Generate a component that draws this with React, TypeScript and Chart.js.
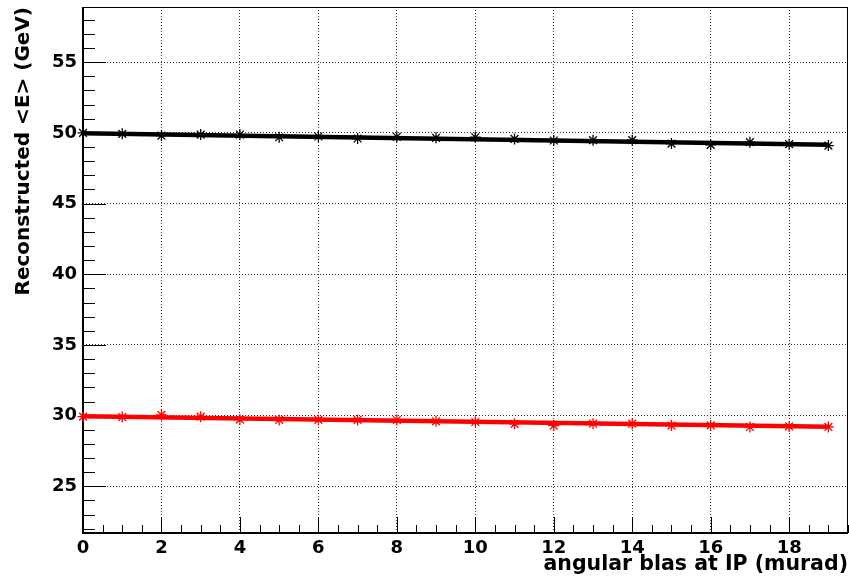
import React, { useEffect, useRef } from "react";
import { Chart, registerables } from "chart.js";

Chart.register(...registerables);

const xValues = [0, 1, 2, 3, 4, 5, 6, 7, 8, 9, 10, 11, 12, 13, 14, 15, 16, 17, 18, 19];
const blackValues = [50.0, 49.93, 49.81, 49.88, 49.88, 49.69, 49.74, 49.6, 49.72, 49.65, 49.69, 49.57, 49.46, 49.48, 49.48, 49.24, 49.15, 49.34, 49.2, 49.1];
const redValues = [29.93, 29.9, 30.05, 29.93, 29.72, 29.7, 29.7, 29.7, 29.69, 29.6, 29.55, 29.42, 29.3, 29.43, 29.43, 29.3, 29.31, 29.2, 29.24, 29.2];
const fitX = [0, 19];
const blackFit = [49.97, 49.15];
const redFit = [29.95, 29.22];

const xTicks = [0, 2, 4, 6, 8, 10, 12, 14, 16, 18];
const yTicks = [25, 30, 35, 40, 45, 50, 55];
const xMinorStep = 0.5;
const yMinorStep = 1;
const xRange = [0, 19.5];
const yRange = [21.7, 58.9];

const xTitle = "angular blas at IP (murad)";
const yTitle = "Reconstructed <E> (GeV)";

const FONT = "'DejaVu Sans', 'Liberation Sans', Arial, sans-serif";

const rootAxesPlugin = {
  id: "rootAxes",
  beforeDatasetsDraw(chart: any) {
    const { ctx, chartArea } = chart;
    const { left, right, top, bottom } = chartArea;
    const xs = chart.scales.x;
    const ys = chart.scales.y;
    const w = right - left;
    const h = bottom - top;
    ctx.save();
    ctx.fillStyle = "#000";
    // frame
    ctx.fillRect(left, top, w, 1);
    ctx.fillRect(right - 1, top, 1, h);
    ctx.fillRect(left - 1, top, 2, h + 1);
    ctx.fillRect(left - 1, bottom - 1, w + 1, 2);
    // y ticks
    const yMajLen = Math.round(0.03 * w);
    const yMinLen = Math.round(yMajLen / 2);
    for (let v = Math.ceil(yRange[0]); v <= yRange[1]; v += yMinorStep) {
      const py = Math.round(ys.getPixelForValue(v));
      const major = yTicks.includes(v);
      ctx.fillRect(left, py, major ? yMajLen : yMinLen, 1);
    }
    // x ticks
    const xMajLen = Math.round(0.03 * h);
    const xMinLen = Math.round(xMajLen / 2);
    for (let v = xRange[0]; v <= xRange[1] + 1e-6; v += xMinorStep) {
      const px = Math.round(xs.getPixelForValue(v));
      const major = xTicks.includes(v);
      const len = major ? xMajLen : xMinLen;
      ctx.fillRect(px, bottom - len, 1, len);
    }
    ctx.restore();
  },
};

export default function App() {
  const ref = useRef<HTMLCanvasElement | null>(null);

  useEffect(() => {
    document.body.style.margin = "0";
    const canvas = ref.current;
    if (!canvas) return;

    const pts = (ys: number[]) => xValues.map((x, i) => ({ x, y: ys[i] }));
    const fit = (ys: number[]) => fitX.map((x, i) => ({ x, y: ys[i] }));

    const chart = new Chart(canvas, {
      type: "line",
      data: {
        datasets: [
          {
            data: fit(blackFit),
            borderColor: "#000",
            borderWidth: 4.5,
            pointRadius: 0,
            showLine: true,
            fill: false,
            clip: false,
          },
          {
            data: fit(redFit),
            borderColor: "#ff0000",
            borderWidth: 4.5,
            pointRadius: 0,
            showLine: true,
            fill: false,
            clip: false,
          },
          {
            data: pts(blackValues),
            showLine: false,
            pointStyle: "star",
            pointRadius: 5.5,
            borderColor: "#000",
            backgroundColor: "#000",
            pointBorderWidth: 1.3,
            clip: false,
          },
          {
            data: pts(redValues),
            showLine: false,
            pointStyle: "star",
            pointRadius: 5.5,
            borderColor: "#ff0000",
            backgroundColor: "#ff0000",
            pointBorderWidth: 1.3,
            clip: false,
          },
        ],
      },
      options: {
        animation: false,
        responsive: false,
        devicePixelRatio: 1,
        layout: { autoPadding: false, padding: { top: 7, right: 1, left: 0, bottom: 0 } },
        plugins: { legend: { display: false }, tooltip: { enabled: false } },
        scales: {
          x: {
            type: "linear",
            min: xRange[0],
            max: xRange[1],
            afterBuildTicks: (s: any) => {
              s.ticks = xTicks.map((v) => ({ value: v }));
            },
            afterFit: (s: any) => {
              s.height = 55;
              s.paddingLeft = 0;
              s.paddingRight = 0;
            },
            ticks: {
              color: "#000",
              font: { family: FONT, size: 18, weight: "bold" },
              padding: 5,
              maxRotation: 0,
              autoSkip: false,
              callback: (v: any) => String(v),
            },
            grid: { color: "#333", lineWidth: 1, drawTicks: false },
            border: { display: false, dash: [1, 2] },
            title: {
              display: true,
              text: xTitle,
              align: "end",
              color: "#000",
              font: { family: FONT, size: 20.5, weight: "bold" },
              padding: { top: 0, bottom: 11 },
            },
          },
          y: {
            type: "linear",
            min: yRange[0],
            max: yRange[1],
            afterBuildTicks: (s: any) => {
              s.ticks = yTicks.map((v) => ({ value: v }));
            },
            afterFit: (s: any) => {
              s.width = 83;
              s.paddingTop = 0;
              s.paddingBottom = 0;
            },
            ticks: {
              color: "#000",
              font: { family: FONT, size: 18, weight: "bold" },
              padding: 6,
              callback: (v: any) => String(v),
            },
            grid: { color: "#333", lineWidth: 1, drawTicks: false },
            border: { display: false, dash: [1, 2] },
            title: {
              display: true,
              text: yTitle,
              align: "end",
              color: "#000",
              font: { family: FONT, size: 20, weight: "bold" },
              padding: { top: 12, bottom: 0 },
            },
          },
        },
      },
      plugins: [rootAxesPlugin],
    } as any);

    return () => chart.destroy();
  }, []);

  return (
    <div style={{ width: 849, height: 588, background: "#fff" }}>
      <canvas ref={ref} width={849} height={588} style={{ display: "block" }} />
    </div>
  );
}
